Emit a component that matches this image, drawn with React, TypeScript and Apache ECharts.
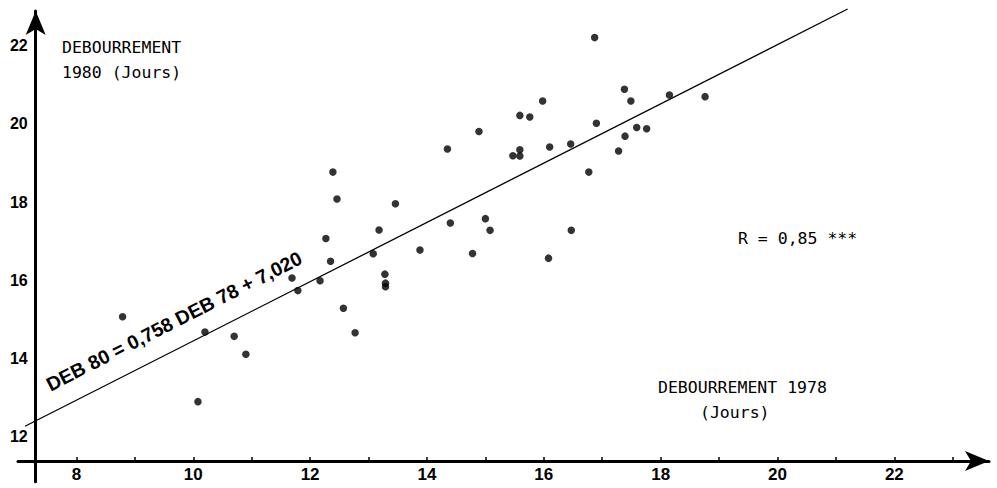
import React, { useEffect, useRef } from "react";
import * as echarts from "echarts";

// DEBOURREMENT 1978 (x) and 1980 (y), in days
const deb78 = [
  8.79, 10.08, 10.2, 10.7, 10.9, 11.69, 11.79, 12.17, 12.27, 12.35, 12.39, 12.46,
  12.57, 12.77, 13.08, 13.18, 13.28, 13.29, 13.29, 13.46, 13.88, 14.35, 14.4, 14.78,
  14.89, 15.0, 15.08, 15.47, 15.59, 15.59, 15.59, 15.76, 15.98, 16.1, 16.08, 16.46,
  16.47, 16.77, 16.87, 16.9, 17.28, 17.38, 17.39, 17.49, 17.59, 17.76, 18.15, 18.76,
];
const deb80 = [
  15.22, 13.05, 14.83, 14.72, 14.26, 16.21, 15.89, 16.14, 17.22, 16.64, 18.92, 18.23,
  15.44, 14.81, 16.83, 17.44, 16.31, 16.08, 15.99, 18.11, 16.93, 19.51, 17.62, 16.84,
  19.96, 17.73, 17.43, 19.34, 19.49, 19.33, 20.37, 20.33, 20.74, 19.56, 16.72, 19.64,
  17.43, 18.92, 22.36, 20.17, 19.46, 21.04, 19.84, 20.74, 20.06, 20.03, 20.89, 20.85,
];
const xTickLabels = [8, 10, 12, 14, 16, 18, 20, 22];
const yTickLabels = [12, 14, 16, 18, 20, 22];
// ends of the drawn regression line DEB80 = 0.758 DEB78 + 7.020
const regressionLine = [
  [7.12, 12.42],
  [21.2, 23.09],
];
const equationText = "DEB 80 = 0,758 DEB 78 + 7,020";
const rText = "R = 0,85 ***";
const yTitle1 = "DEBOURREMENT";
const yTitle2 = "1980 (Jours)";
const xTitle1 = "DEBOURREMENT 1978";
const xTitle2 = "(Jours)";

export default function App() {
  const ref = useRef<HTMLDivElement>(null);
  useEffect(() => {
    if (!ref.current) return;
    const chart = echarts.init(ref.current, undefined, { renderer: "svg" });
    const mono = "'DejaVu Sans Mono', monospace";
    const bold = "'Liberation Sans', Arial, sans-serif";
    const points = deb78.map((x, i) => [x, deb80[i]]);
    chart.setOption({
      animation: false,
      backgroundColor: "#fff",
      grid: { left: 18, right: 8, top: 11, bottom: 6.2, containLabel: false },
      xAxis: {
        type: "value",
        min: 7,
        max: 23.62,
        interval: 1,
        offset: -20.8,
        splitLine: { show: false },
        axisLine: {
          show: true,
          onZero: false,
          symbol: ["none", "arrow"],
          symbolSize: [15, 24],
          lineStyle: { color: "#000", width: 3 },
        },
        axisTick: { show: true, inside: true, length: 4, lineStyle: { color: "#000", width: 1.5 } },
        axisLabel: {
          margin: 5,
          color: "#000",
          fontFamily: bold,
          fontWeight: "bold",
          fontSize: 17,
          showMinLabel: false,
          showMaxLabel: false,
          formatter: (v: number) => (xTickLabels.includes(v) ? String(v) : ""),
        },
      },
      yAxis: {
        type: "value",
        min: 11,
        max: 23.04,
        interval: 1,
        offset: -17.7,
        splitLine: { show: false },
        axisLine: {
          show: true,
          onZero: false,
          symbol: ["none", "arrow"],
          symbolSize: [15, 24],
          lineStyle: { color: "#000", width: 3 },
        },
        axisTick: { show: false },
        axisLabel: {
          margin: 8,
          color: "#000",
          fontFamily: bold,
          fontWeight: "bold",
          fontSize: 16,
          lineHeight: 12,
          verticalAlign: "bottom",
          showMinLabel: false,
          showMaxLabel: false,
          formatter: (v: number) => (yTickLabels.includes(v) ? String(v) : ""),
        },
      },
      series: [
        {
          type: "line",
          data: regressionLine,
          showSymbol: false,
          symbol: "none",
          clip: false,
          lineStyle: { color: "#000", width: 1.3 },
          silent: true,
        },
        {
          type: "scatter",
          data: points,
          symbol: "circle",
          symbolSize: 7.5,
          itemStyle: { color: "#000" },
          clip: false,
        },
      ],
      graphic: [
        {
          type: "text",
          left: 62,
          top: 39,
          style: { text: yTitle1, fill: "#000", fontFamily: mono, fontSize: 16.5 },
        },
        {
          type: "text",
          left: 62,
          top: 64,
          style: { text: yTitle2, fill: "#000", fontFamily: mono, fontSize: 16.5 },
        },
        {
          type: "text",
          left: 738,
          top: 230,
          style: { text: rText, fill: "#000", fontFamily: mono, fontSize: 16.5 },
        },
        {
          type: "text",
          left: 658,
          top: 379,
          style: { text: xTitle1, fill: "#000", fontFamily: mono, fontSize: 16.5 },
        },
        {
          type: "text",
          left: 700,
          top: 404,
          style: { text: xTitle2, fill: "#000", fontFamily: mono, fontSize: 16.5 },
        },
        {
          type: "text",
          x: 174,
          y: 321,
          rotation: (27 * Math.PI) / 180,
          style: {
            text: equationText,
            fill: "#000",
            fontFamily: bold,
            fontWeight: "bold",
            fontSize: 19.5,
            align: "center",
            verticalAlign: "middle",
          },
        },
      ],
    });
    return () => chart.dispose();
  }, []);
  return (
    <div
      ref={ref}
      style={{ position: "fixed", left: 0, top: 0, width: 997, height: 488, background: "#fff" }}
    />
  );
}
